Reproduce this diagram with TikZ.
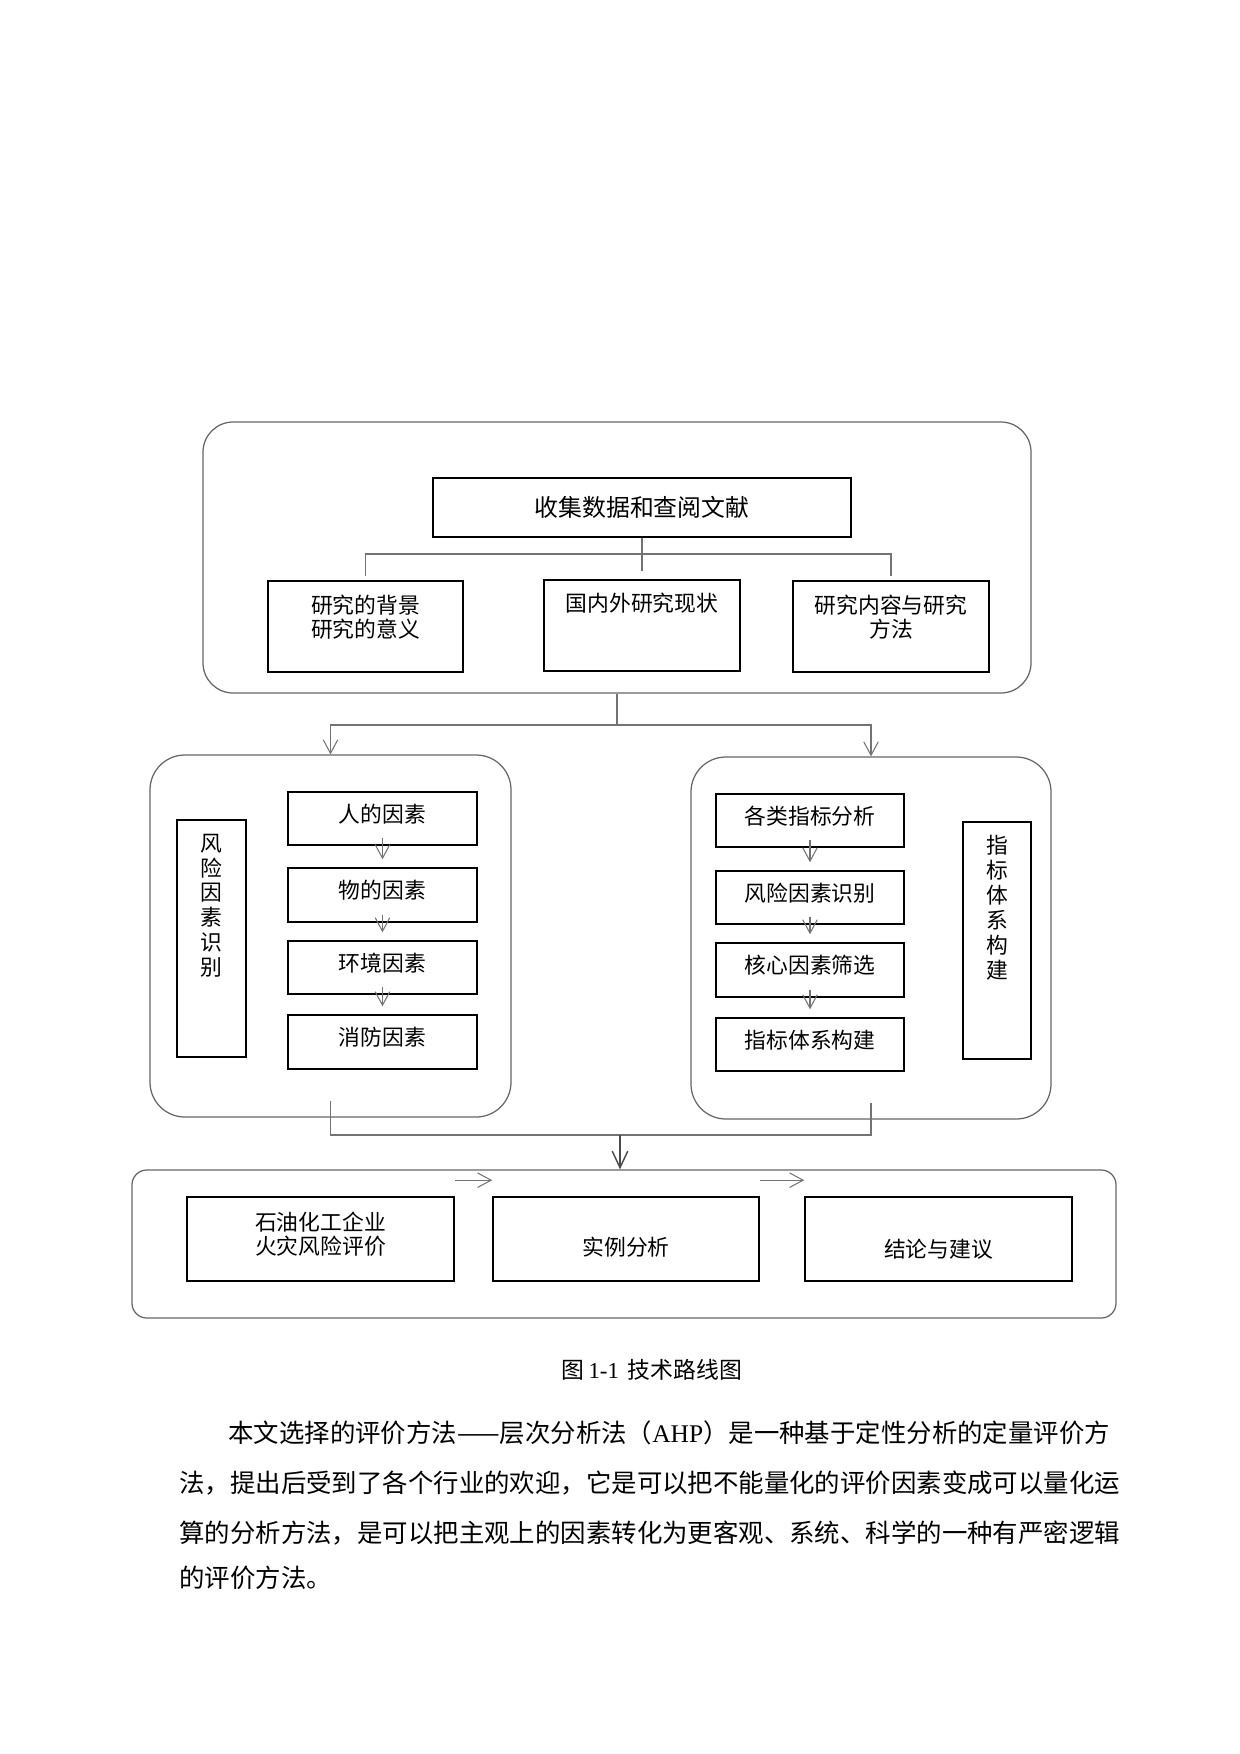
\documentclass[tikz,border=0pt]{standalone}
\usepackage{fontspec}
\setmainfont{Liberation Serif}
\newfontfamily\cjk{Noto Sans CJK SC}
\usetikzlibrary{positioning,calc,arrows.meta}
\newcommand{\pxl}{0.16935mm}

\begin{document}
\begin{tikzpicture}[x=0.16935mm, y=-0.16935mm,
                sz/.style 2 args={minimum width=#1*\pxl, minimum height=#2*\pxl},
                outerbox/.style={draw=black!60, line width=0.6pt, inner sep=0pt},
                boxnode/.style={draw=black, line width=0.8pt, inner sep=0pt, font=\cjk\fontsize{10.5}{11.5}\selectfont, align=center},
                lbl/.style={inner sep=0pt, font=\cjk\fontsize{10.5}{11.5}\selectfont, align=center},
                vlbl/.style={inner sep=0pt, font=\cjk\fontsize{10.5}{12}\selectfont, align=center},
                linkline/.style={draw=black!55, line width=0.5pt},
                arrowline/.style={linkline, -{Straight Barb[length=6.5pt,width=7pt]}},
                mainarrow/.style={draw=black!70, line width=0.7pt, -{Straight Barb[length=8pt,width=7.5pt]}},
                textline/.style={inner sep=0pt, anchor=west, font=\cjk\fontsize{12.25}{14}\selectfont},
            ]

            \useasboundingbox (0,0) rectangle (1240,1754);

            % top block
            \node[outerbox, rounded corners=5.1mm, sz={828}{271}] (topblk) at (617,557.5) {};
            \node[boxnode, sz={418}{59}, font=\cjk\fontsize{11.5}{13}\selectfont] (collect) at (642,507.5) {收集数据和查阅文献};
            \node[boxnode, sz={195}{91}, label={[lbl, yshift=4.6pt]center:{研究的背景\\研究的意义}}] (backg) at (365.5,626.5) {};
            \node[boxnode, sz={196}{91}, text depth=22.5pt] (status) at (642,625.5) {国内外研究现状};
            \node[boxnode, sz={196}{91}, label={[lbl, yshift=4.6pt]center:{研究内容与研究\\方法}}] (content) at (891,626.5) {};

            \coordinate (busT) at (642,554);
            \draw[linkline] (collect.south) -- ([yshift=3.8pt]status.north);
            \draw[linkline] ([yshift=1.9pt]backg.north) |- (busT) -| ([yshift=1.9pt]content.north);

            % middle blocks
            \node[outerbox, rounded corners=5.9mm, sz={361}{362}] (leftblk) at (330.5,936) {};
            \node[outerbox, rounded corners=5.9mm, sz={360}{362}] (rightblk) at (871,938) {};

            \coordinate (splitA) at (617,725);
            \draw[linkline] (topblk.south) -- (splitA);
            \draw[arrowline] (splitA) -| (leftblk.north);
            \draw[arrowline] (splitA) -| (rightblk.north);

            % left: risk factors
            \node[boxnode, sz={69}{237}, label={[vlbl, yshift=15.8pt]center:{风\\险\\因\\素\\识\\别}}] (riskid) at (211.5,938.5) {};
            \node[boxnode, sz={189}{53}, text depth=5.2pt] (A1) at (382.5,818.5) {人的因素};
            \node[boxnode, sz={189}{54}, text depth=5.2pt] (A2) at (382.5,895) {物的因素};
            \node[boxnode, sz={189}{53}, text depth=5.2pt] (A3) at (382.5,967.5) {环境因素};
            \node[boxnode, sz={189}{54}, text depth=5.2pt] (A4) at (382.5,1042) {消防因素};

            % right: index system
            \node[boxnode, sz={188}{53}, text depth=5.2pt] (B1) at (810,820.5) {各类指标分析};
            \node[boxnode, sz={188}{53}, text depth=5.2pt] (B2) at (810,897.5) {风险因素识别};
            \node[boxnode, sz={188}{54}, text depth=5.2pt] (B3) at (810,970) {核心因素筛选};
            \node[boxnode, sz={188}{53}, text depth=5.2pt] (B4) at (810,1044.5) {指标体系构建};
            \node[boxnode, sz={68}{237}, label={[vlbl, yshift=15.8pt]center:{指\\标\\体\\系\\构\\建}}] (indexsys) at (997,940.5) {};

            \foreach \a/\b in {A1/A2, A2/A3, A3/A4, B1/B2, B2/B3, B3/B4}
                \draw[arrowline] ([yshift=3.8pt]\a.south) -- ([yshift=3.8pt]\b.north);

            % bottom block
            \node[outerbox, rounded corners=2.5mm, sz={984}{148}] (botblk) at (624,1244) {};
            \node[boxnode, sz={267}{84}, label={[lbl, yshift=2.4pt]center:{石油化工企业\\火灾风险评价}}] (C1) at (320.5,1239) {};
            \node[boxnode, sz={266}{84}, text height=16.7pt] (C2) at (626,1239) {实例分析};
            \node[boxnode, sz={267}{84}, text height=18.6pt] (C3) at (938.5,1239) {结论与建议};

            \coordinate (joinB) at (620,1135);
            \draw[linkline] ([yshift=8pt]leftblk.south) |- (joinB) -| ([yshift=8pt]rightblk.south);
            \draw[mainarrow] (joinB) -- (joinB |- botblk.north);

            \draw[arrowline] ([yshift=7.7pt]C1.north east) -- ([yshift=7.7pt]C2.north west);
            \draw[arrowline] ([yshift=7.7pt]C2.north east) -- ([yshift=7.7pt]C3.north west);

            % caption and text
            \node[inner sep=0pt, font=\cjk\fontsize{11}{13}\selectfont] (caption) at (652,1370) {图\,{\rmfamily 1-1}\, 技术路线图};

            \node[textline] (line1) at (228,1433) {本文选择的评价方法——层次分析法（{\rmfamily AHP}）是一种基于定性分析的定量评价方};
            \node[textline] (line2) at (179,1483) {法，提出后受到了各个行业的欢迎，它是可以把不能量化的评价因素变成可以量化运};
            \node[textline] (line3) at (179,1533) {算的分析方法，是可以把主观上的因素转化为更客观、系统、科学的一种有严密逻辑};
            \node[textline] (line4) at (179,1578) {的评价方法。};
        \end{tikzpicture}
\end{document}
